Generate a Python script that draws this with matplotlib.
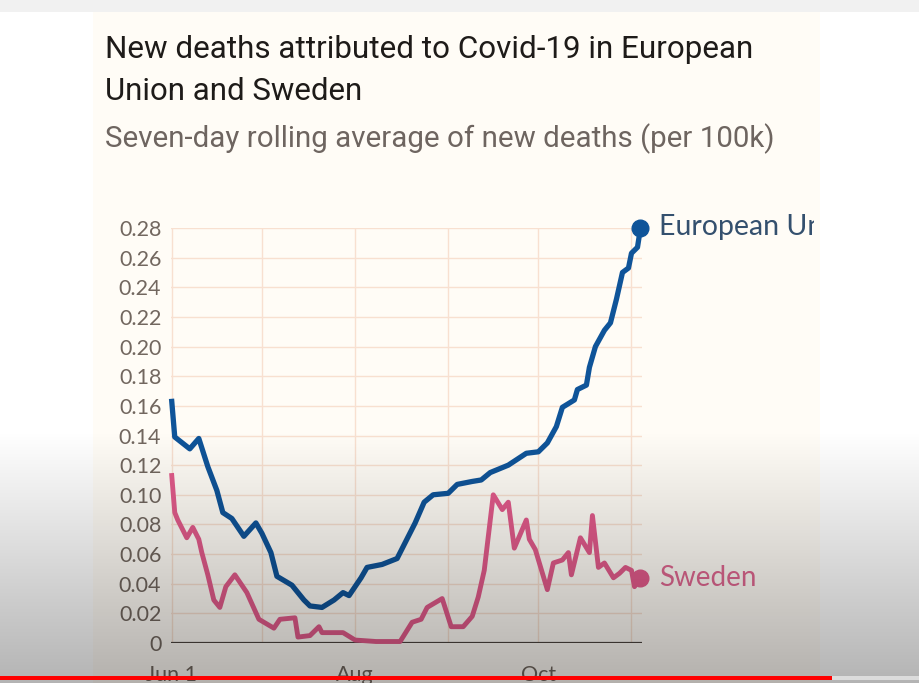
import numpy as np
import pandas as pd
import matplotlib
matplotlib.use("Agg")
import matplotlib.pyplot as plt
from matplotlib.patches import Rectangle

# =======================================================
# Data
# =======================================================

eu_dates = [
    "2020-06-01", "2020-06-02", "2020-06-07", "2020-06-10", "2020-06-13",
    "2020-06-16", "2020-06-18", "2020-06-21", "2020-06-25", "2020-06-29",
    "2020-07-01", "2020-07-04", "2020-07-06", "2020-07-11", "2020-07-15",
    "2020-07-17", "2020-07-21", "2020-07-25", "2020-07-28", "2020-07-30",
    "2020-08-03", "2020-08-05", "2020-08-10", "2020-08-15", "2020-08-17",
    "2020-08-21", "2020-08-24", "2020-08-27", "2020-09-01", "2020-09-04",
    "2020-09-09", "2020-09-12", "2020-09-15", "2020-09-21", "2020-09-27",
    "2020-10-01", "2020-10-04", "2020-10-07", "2020-10-09", "2020-10-13",
    "2020-10-14", "2020-10-17", "2020-10-18", "2020-10-20", "2020-10-23",
    "2020-10-25", "2020-10-27", "2020-10-29", "2020-10-31", "2020-11-01",
    "2020-11-03", "2020-11-04",
]
eu_values = [
    0.163, 0.139, 0.131, 0.138, 0.119,
    0.103, 0.088, 0.084, 0.072, 0.081,
    0.074, 0.061, 0.045, 0.039, 0.029,
    0.025, 0.024, 0.029, 0.034, 0.032,
    0.044, 0.051, 0.053, 0.057, 0.065,
    0.081, 0.095, 0.100, 0.101, 0.107,
    0.109, 0.110, 0.115, 0.120, 0.128,
    0.129, 0.135, 0.146, 0.159, 0.164,
    0.171, 0.174, 0.186, 0.200, 0.211,
    0.216, 0.232, 0.250, 0.253, 0.263,
    0.267, 0.280,
]

sweden_dates = [
    "2020-06-01", "2020-06-02", "2020-06-03", "2020-06-06", "2020-06-08",
    "2020-06-10", "2020-06-11", "2020-06-13", "2020-06-15", "2020-06-17",
    "2020-06-19", "2020-06-22", "2020-06-26", "2020-06-30", "2020-07-05",
    "2020-07-07", "2020-07-12", "2020-07-13", "2020-07-17", "2020-07-20",
    "2020-07-21", "2020-07-28", "2020-08-01", "2020-08-08", "2020-08-16",
    "2020-08-20", "2020-08-23", "2020-08-25", "2020-08-30", "2020-09-02",
    "2020-09-06", "2020-09-09", "2020-09-11", "2020-09-13", "2020-09-16",
    "2020-09-19", "2020-09-21", "2020-09-23", "2020-09-27", "2020-09-28",
    "2020-09-30", "2020-10-04", "2020-10-06", "2020-10-09", "2020-10-11",
    "2020-10-12", "2020-10-15", "2020-10-18", "2020-10-19", "2020-10-21",
    "2020-10-23", "2020-10-26", "2020-10-28", "2020-10-30", "2020-11-01",
    "2020-11-02", "2020-11-04",
]
sweden_values = [
    0.113, 0.088, 0.083, 0.071, 0.078,
    0.070, 0.061, 0.046, 0.029, 0.024,
    0.038, 0.046, 0.034, 0.016, 0.010,
    0.016, 0.017, 0.004, 0.005, 0.011,
    0.007, 0.007, 0.002, 0.001, 0.001,
    0.014, 0.016, 0.024, 0.030, 0.011,
    0.011, 0.018, 0.031, 0.049, 0.100,
    0.090, 0.095, 0.064, 0.083, 0.070,
    0.063, 0.036, 0.054, 0.056, 0.061,
    0.046, 0.071, 0.061, 0.086, 0.051,
    0.054, 0.044, 0.047, 0.051, 0.049,
    0.038, 0.044,
]

y_ticks = [0, 0.02, 0.04, 0.06, 0.08, 0.10, 0.12, 0.14, 0.16, 0.18, 0.20, 0.22, 0.24, 0.26, 0.28]
y_tick_labels = ["0"] + [f"{v:.2f}" for v in y_ticks[1:]]
x_tick_dates = ["2020-06-01", "2020-08-01", "2020-10-01"]
x_tick_labels = ["Jun 1", "Aug", "Oct"]
month_grid = ["2020-06-01", "2020-07-01", "2020-08-01", "2020-09-01", "2020-10-01", "2020-11-01"]

title_lines = ["New deaths attributed to Covid-19 in European", "Union and Sweden"]
subtitle = "Seven-day rolling average of new deaths (per 100k)"

# =======================================================
# Styling
# =======================================================

W, H = 919, 683
card_bg = "#fffcf6"
grid_col = "#f8e0d0"
tick_col = "#72675f"
eu_col = "#0f5499"
se_col = "#e25b8b"

plt.rcParams["font.family"] = ["Lato", "DejaVu Sans"]

fig = plt.figure(figsize=(W / 100, H / 100), dpi=100)
fig.patch.set_facecolor("#ffffff")


def fx(px):
    return px / W


def fy(py):
    return 1 - py / H


# top strip and card
fig.add_artist(Rectangle((0, fy(12)), 1, 12 / H, transform=fig.transFigure,
                         facecolor="#f1f1f1", edgecolor="none", zorder=0))
card = Rectangle((fx(93), 0), fx(820) - fx(93), fy(12), transform=fig.transFigure,
                 facecolor=card_bg, edgecolor="none", zorder=0)
fig.add_artist(card)

ax = fig.add_axes([fx(171), fy(643), fx(642) - fx(171), fy(228) - fy(643)])
ax.set_facecolor("none")

eu_x = pd.to_datetime(eu_dates)
se_x = pd.to_datetime(sweden_dates)

for d in month_grid:
    ax.axvline(pd.Timestamp(d), color=grid_col, lw=1, zorder=0)
for v in y_ticks[1:]:
    ax.axhline(v, color=grid_col, lw=1, zorder=0)
ax.axhline(0, color="#4d4540", lw=1.6, zorder=1)

ax.plot(se_x, sweden_values, color=se_col, lw=3.5, solid_joinstyle="round", zorder=3, clip_on=False)
ax.plot(eu_x, eu_values, color=eu_col, lw=3.8, solid_joinstyle="round", zorder=4, clip_on=False)
ax.plot(se_x[-1:], sweden_values[-1:], "o", color=se_col, ms=12, zorder=5, clip_on=False)
ax.plot(eu_x[-1:], eu_values[-1:], "o", color=eu_col, ms=12, zorder=5, clip_on=False)

ax.set_xlim(pd.Timestamp("2020-06-01") - pd.Timedelta(hours=6), pd.Timestamp("2020-11-04") + pd.Timedelta(hours=12))
ax.set_ylim(0, 0.28)
ax.set_yticks(y_ticks)
ax.set_yticklabels(y_tick_labels)
ax.set_xticks(pd.to_datetime(x_tick_dates))
ax.set_xticklabels(x_tick_labels)
ax.tick_params(axis="both", length=0, colors=tick_col, labelsize=15.5)
ax.tick_params(axis="y", pad=7)
ax.tick_params(axis="x", pad=16)
for s in ax.spines.values():
    s.set_visible(False)

# end labels, clipped at card edge
clip = Rectangle((fx(90), 0), fx(814) - fx(90), 1, transform=fig.transFigure, visible=False)
fig.add_artist(clip)
t1 = fig.text(fx(659), fy(227), "European Union", color="#34506e", fontsize=20.5,
              va="center", ha="left", zorder=6)
t1.set_clip_path(clip)
fig.text(fx(659), fy(578), "Sweden", color="#df6790", fontsize=20, va="center", ha="left", zorder=6)

# title / subtitle, fitted to width seen in reference
renderer = fig.canvas.get_renderer()


def fitted_text(x, y, s, target_w, color, size):
    t = fig.text(fx(x), fy(y), s, color=color, fontsize=size, va="baseline", ha="left",
                 family=["Roboto", "DejaVu Sans"])
    w = t.get_window_extent(renderer).width
    t.set_fontsize(size * target_w / w)
    return t


fitted_text(105, 58, title_lines[0], 647, "#1e1b19", 20)
fitted_text(105, 100, title_lines[1], 257, "#1e1b19", 20)
fitted_text(105, 147, subtitle, 668, "#6e6560", 18)

# video overlay: darkening gradient at the bottom and progress bar
ov = fig.add_axes([0, 0, 1, 1], zorder=10)
ov.set_axis_off()
grad = np.zeros((H, 1, 4))
rows = np.arange(H)
grad[:, 0, 3] = np.clip((rows - 430) / (683 - 430), 0, 1) * 0.3
ov.imshow(grad, aspect="auto", extent=(0, W, H, 0), interpolation="bilinear")
ov.set_xlim(0, W)
ov.set_ylim(H, 0)
ov.add_patch(Rectangle((0, 676), W, 3.5, facecolor="#dcdcdc", edgecolor="none"))
ov.add_patch(Rectangle((0, 676), 832, 3.5, facecolor="#ff0000", edgecolor="none"))

fig.savefig("out.png", dpi=100, facecolor=fig.get_facecolor())
